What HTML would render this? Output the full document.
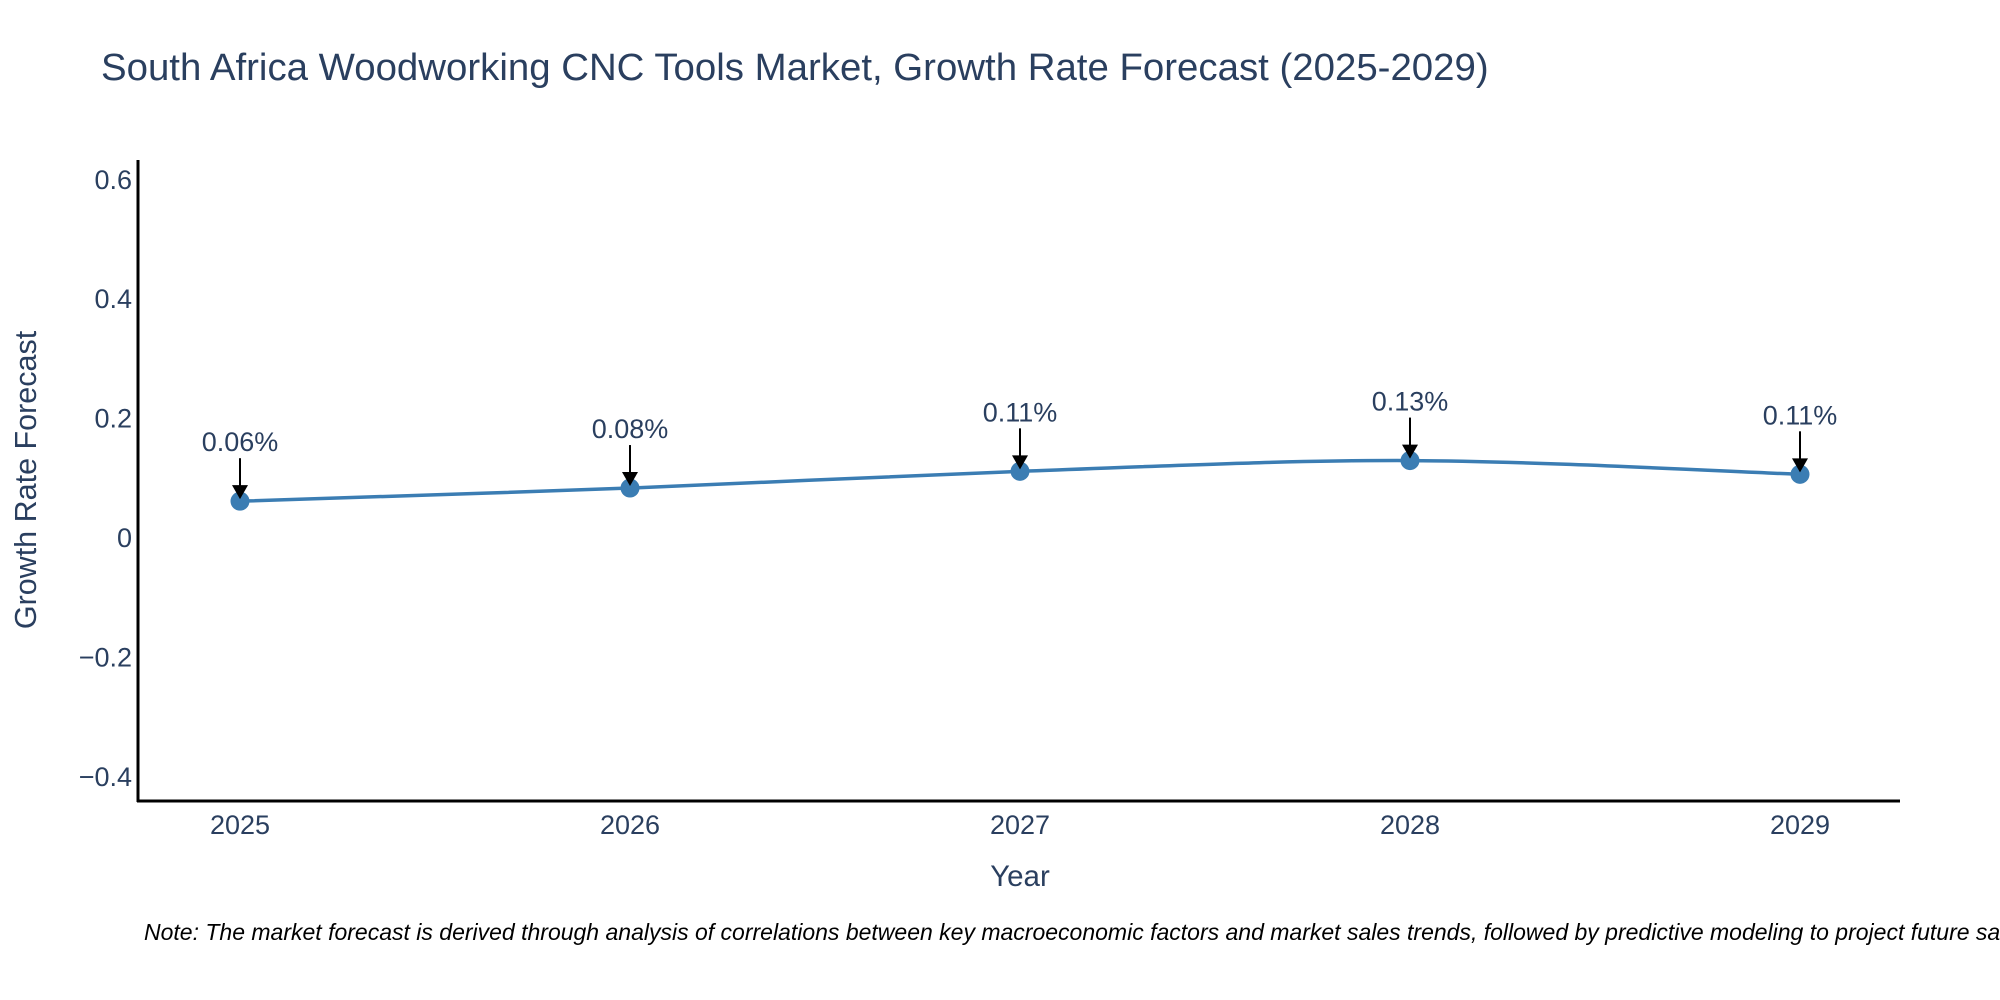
<!DOCTYPE html>
<html><head><meta charset="utf-8"><style>
body{margin:0;background:#fff;overflow:hidden;}
svg{display:block;font-family:"Liberation Sans",sans-serif;}
</style></head><body>
<svg id="chart" width="2000" height="1000">
<text x="101" y="80" font-size="38.4" fill="#2a3f5f">South Africa Woodworking CNC Tools Market, Growth Rate Forecast (2025-2029)</text>
<g id="yticks"></g>
<g id="xticks"></g>
<line x1="138" y1="160" x2="138" y2="802" stroke="#000" stroke-width="3"/>
<line x1="137" y1="801" x2="1900" y2="801" stroke="#000" stroke-width="3"/>
<text transform="translate(36,480) rotate(-90)" text-anchor="middle" font-size="30.5" fill="#2a3f5f">Growth Rate Forecast</text>
<text x="1020" y="886" text-anchor="middle" font-size="29.5" fill="#2a3f5f">Year</text>
<g id="series"></g>
<g id="annots"></g>
<text x="144" y="940" font-size="23" font-style="italic" fill="#000">Note: The market forecast is derived through analysis of correlations between key macroeconomic factors and market sales trends, followed by predictive modeling to project future sales.</text>
</svg>
<script>
const years = ["2025","2026","2027","2028","2029"];
const values = [0.060, 0.082, 0.110, 0.128, 0.105];
const labels = ["0.06%","0.08%","0.11%","0.13%","0.11%"];
const yTicks = [-0.4,-0.2,0,0.2,0.4,0.6];
const yTickLabels = ["\u22120.4","\u22120.2","0","0.2","0.4","0.6"];

const NS="http://www.w3.org/2000/svg";
const xS = i => 240 + i*390;
const yS = v => 537 - v*597;
function mk(tag, attrs, parent){const e=document.createElementNS(NS,tag);for(const k in attrs)e.setAttribute(k,attrs[k]);parent.appendChild(e);return e;}

const yt=document.getElementById('yticks');
yTicks.forEach((v,i)=>{
  const t=mk('text',{x:132,y:yS(v)+10,'text-anchor':'end','font-size':27,fill:'#2a3f5f'},yt);
  
  
  t.textContent=yTickLabels[i];
});
const xt=document.getElementById('xticks');
years.forEach((y,i)=>{
  const t=mk('text',{x:xS(i),y:834,'text-anchor':'middle','font-size':27,fill:'#2a3f5f'},xt);
  
  
  t.textContent=y;
});

const pts=values.map((v,i)=>[xS(i),yS(v)]);
let d=`M${pts[0][0]},${pts[0][1]}`;
for(let i=0;i<pts.length-1;i++){
  const p0=pts[Math.max(0,i-1)],p1=pts[i],p2=pts[i+1],p3=pts[Math.min(pts.length-1,i+2)];
  const s=1/6;
  d+=` C${p1[0]+(p2[0]-p0[0])*s},${p1[1]+(p2[1]-p0[1])*s} ${p2[0]-(p3[0]-p1[0])*s},${p2[1]-(p3[1]-p1[1])*s} ${p2[0]},${p2[1]}`;
}
const ser=document.getElementById('series');
const path=mk('path',{d:d,fill:'none',stroke:'#3b7db3','stroke-width':3.5},ser);


pts.forEach(p=>{
  const c=mk('circle',{cx:p[0],cy:p[1],r:9.5,fill:'#3b7db3'},ser);
  
  
});
const an=document.getElementById('annots');
pts.forEach((p,i)=>{
  const l=mk('line',{x1:p[0],y1:p[1]-43,x2:p[0],y2:p[1]-14,stroke:'#000','stroke-width':2},an);
  
  
  const h=mk('polygon',{points:`${p[0]-8},${p[1]-16} ${p[0]+8},${p[1]-16} ${p[0]},${p[1]-2}`,fill:'#000'},an);
  
  
  const t=mk('text',{x:p[0],y:p[1]-50,'text-anchor':'middle','font-size':27,fill:'#2a3f5f'},an);
  
  
  t.textContent=labels[i];
});
</script>
</body></html>
